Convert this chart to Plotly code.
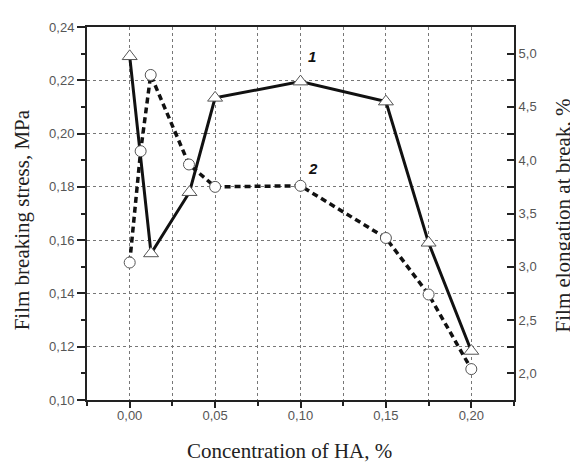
import plotly.graph_objects as go

# Series 1: film breaking stress (MPa), triangles, solid line
x1 = [0.0, 0.0125, 0.035, 0.05, 0.10, 0.15, 0.175, 0.20]
stress = [0.229, 0.155, 0.178, 0.2134, 0.2195, 0.212, 0.159, 0.1184]

# Series 2: film elongation at break (%), circles, dashed line
x2 = [0.0, 0.0064, 0.0123, 0.0347, 0.05, 0.10, 0.15, 0.175, 0.20]
elong = [3.04, 4.085, 4.80, 3.96, 3.75, 3.76, 3.27, 2.74, 2.04]

x_title = "Concentration of HA, %"
y_left_title = "Film breaking stress, MPa"
y_right_title = "Film elongation at break, %"

tick_font = dict(family="Liberation Sans, Arial", size=13, color="#555555")
title_font = dict(family="Liberation Serif, Times New Roman", size=21, color="#222222")

# The page body has an 8px default margin; figure is sized to fit the window.
OFF = 8
W, H = 578 - OFF, 464 - OFF
l, t = 79, 12
r, b = 64, 64
pw, ph = W - l - r, H - t - b


def px_to_paper(px, py):
    """Reference-screen pixel -> paper coords of this figure."""
    return (px - OFF - l) / pw, 1 - (py - OFF - t) / ph


fig = go.Figure()
fig.add_trace(go.Scatter(
    x=x1, y=stress, mode="lines+markers", yaxis="y",
    line=dict(color="#111111", width=3),
    marker=dict(symbol="triangle-up", size=13, color="white",
                line=dict(color="#555555", width=1)),
    showlegend=False,
))
fig.add_trace(go.Scatter(
    x=x2, y=elong, mode="lines+markers", yaxis="y2",
    line=dict(color="#111111", width=3.5, dash="6px,4px"),
    marker=dict(symbol="circle", size=11, color="white",
                line=dict(color="#555555", width=1)),
    showlegend=False,
))

annotations = []
for text, (px, py), ang in [
    (x_title, (289, 452), 0),
    (y_left_title, (22, 217), -90),
    (y_right_title, (563, 212), -90),
]:
    ax, ay = px_to_paper(px, py)
    annotations.append(dict(text=text, x=ax, y=ay, xref="paper", yref="paper",
                            xanchor="center", yanchor="middle", textangle=ang,
                            showarrow=False, font=title_font))
annotations += [
    dict(text="<b><i>1</i></b>", x=0.10, y=0.2288, xref="x", yref="y", showarrow=False,
         xshift=11, yanchor="middle",
         font=dict(family="Liberation Sans, Arial", size=15, color="#111111")),
    dict(text="<b><i>2</i></b>", x=0.10, y=0.1868, xref="x", yref="y", showarrow=False,
         xshift=12, yanchor="middle",
         font=dict(family="Liberation Sans, Arial", size=15, color="#111111")),
]

fig.update_layout(
    width=W, height=H,
    margin=dict(l=l, r=r, t=t, b=b),
    paper_bgcolor="white", plot_bgcolor="white",
    separators=", ",
    xaxis=dict(
        range=[-0.025, 0.225], tick0=0, dtick=0.05, tickformat=".2f",
        showline=True, linecolor="#222222", linewidth=2, mirror=True,
        ticks="outside", ticklen=6, tickwidth=2, tickcolor="#222222",
        ticklabelstandoff=-4,
        showgrid=True, gridcolor="#777777", griddash="dot", gridwidth=1,
        minor=dict(dtick=0.025, tick0=0, ticks="outside", ticklen=4, tickwidth=2,
                   tickcolor="#222222", showgrid=True, gridcolor="#777777",
                   griddash="dot", gridwidth=1),
        tickfont=tick_font, zeroline=False,
    ),
    yaxis=dict(
        range=[0.10, 0.24], tick0=0.10, dtick=0.02, tickformat=".2f",
        showline=True, linecolor="#222222", linewidth=2,
        ticks="outside", ticklen=8, tickwidth=2, tickcolor="#222222",
        ticklabelstandoff=0,
        showgrid=True, gridcolor="#777777", griddash="dot", gridwidth=1,
        minor=dict(dtick=0.01, ticks="outside", ticklen=4, tickwidth=2,
                   tickcolor="#222222", showgrid=False),
        tickfont=tick_font, zeroline=False,
    ),
    yaxis2=dict(
        overlaying="y", side="right",
        range=[1.75, 5.25], tick0=2.0, dtick=0.5, tickformat=".1f",
        showline=True, linecolor="#222222", linewidth=2,
        ticks="inside", ticklen=7, tickwidth=2, tickcolor="#222222",
        ticklabelstandoff=0,
        showgrid=False,
        minor=dict(dtick=0.25, tick0=2.0, ticks="inside", ticklen=7, tickwidth=2,
                   tickcolor="#222222", showgrid=False),
        tickfont=tick_font, zeroline=False,
    ),
    annotations=annotations,
)

fig.write_html("out.html")
